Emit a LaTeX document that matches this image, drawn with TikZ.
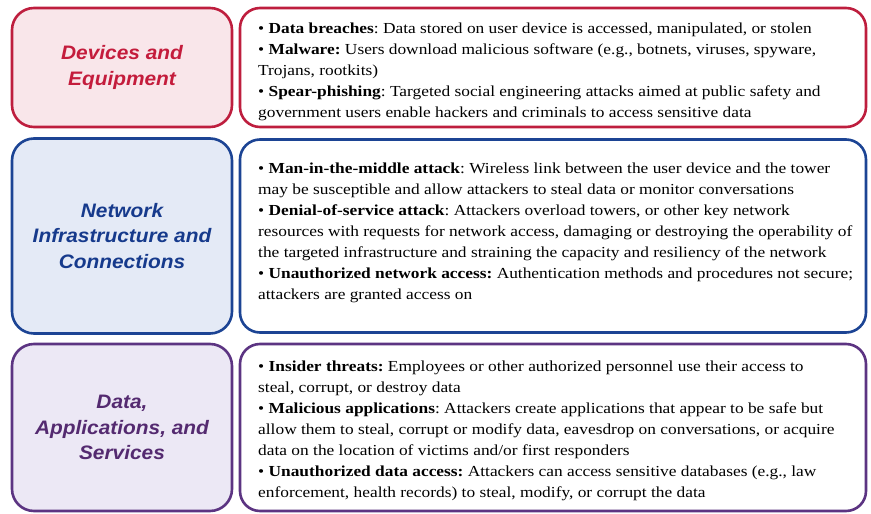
\documentclass[tikz,border=0pt]{standalone}
\usepackage{fontspec}
\setmainfont[FakeStretch=1.135]{Liberation Serif}
\newfontfamily\titrefont[FakeStretch=1.07]{Liberation Sans}
\usetikzlibrary{positioning}
\definecolor{rougeBord}{RGB}{190,30,62}
\definecolor{rougePale}{RGB}{249,230,234}
\definecolor{rougeTexte}{RGB}{196,28,60}
\definecolor{bleuBord}{RGB}{28,68,148}
\definecolor{bleuPale}{RGB}{228,234,246}
\definecolor{bleuTexte}{RGB}{22,58,140}
\definecolor{violetBord}{RGB}{92,52,130}
\definecolor{violetPale}{RGB}{236,232,245}
\definecolor{violetTexte}{RGB}{84,42,112}

\begin{document}
\frenchspacing
\begin{tikzpicture}[x=1pt,y=-1pt,
  cat/.style={rectangle,rounded corners=22pt,line width=2.6pt,align=center,
              minimum width=220pt,
              font=\titrefont\bfseries\itshape\fontsize{19.5}{25.5}\selectfont},
  liste/.style={rectangle,rounded corners=20pt,line width=2.6pt,fill=white,
                minimum width=626pt},
  txt/.style={anchor=north west,align=left,inner sep=0pt,
              font=\fontsize{15.3}{21}\selectfont}]

  \useasboundingbox (0,0) rectangle (871,514);

  % categories
  \node[cat,draw=rougeBord,fill=rougePale,text=rougeTexte,minimum height=119pt]
    (cat1) at (122,67.5) {Devices and\\Equipment};
  \node[cat,draw=bleuBord,fill=bleuPale,text=bleuTexte,minimum height=195pt]
    (cat2) at (122,236) {Network\\Infrastructure and\\Connections};
  \node[cat,draw=violetBord,fill=violetPale,text=violetTexte,minimum height=167pt]
    (cat3) at (122,427.5) {Data,\\Applications, and\\Services};

  % threat lists
  \node[liste,draw=rougeBord,minimum height=119pt] (list1) at (553,67.5) {};
  \node[liste,draw=bleuBord,minimum height=193pt] (list2) at (553,236) {};
  \node[liste,draw=violetBord,minimum height=167pt] (list3) at (553,427.5) {};

  \node[txt] (txt1) at (258,22) {\rule{0pt}{11pt}%
    • \textbf{Data breaches}: Data stored on user device is accessed, manipulated, or stolen\\
    • \textbf{Malware:} Users download malicious software (e.g., botnets, viruses, spyware,\\
    Trojans, rootkits)\\
    • \textbf{Spear-phishing}: Targeted social engineering attacks aimed at public safety and\\
    government users enable hackers and criminals to access sensitive data};
  \node[txt] (txt2) at (258,162) {\rule{0pt}{11pt}%
    • \textbf{Man-in-the-middle attack}: Wireless link between the user device and the tower\\
    may be susceptible and allow attackers to steal data or monitor conversations\\
    • \textbf{Denial-of-service attack}: Attackers overload towers, or other key network\\
    resources with requests for network access, damaging or destroying the operability of\\
    the targeted infrastructure and straining the capacity and resiliency of the network\\
    • \textbf{Unauthorized network access:} Authentication methods and procedures not secure;\\
    attackers are granted access on};
  \node[txt] (txt3) at (258,360) {\rule{0pt}{11pt}%
    • \textbf{Insider threats:} Employees or other authorized personnel use their access to\\
    steal, corrupt, or destroy data\\
    • \textbf{Malicious applications}: Attackers create applications that appear to be safe but\\
    allow them to steal, corrupt or modify data, eavesdrop on conversations, or acquire\\
    data on the location of victims and/or first responders\\
    • \textbf{Unauthorized data access:} Attackers can access sensitive databases (e.g., law\\
    enforcement, health records) to steal, modify, or corrupt the data};
\end{tikzpicture}
\end{document}
